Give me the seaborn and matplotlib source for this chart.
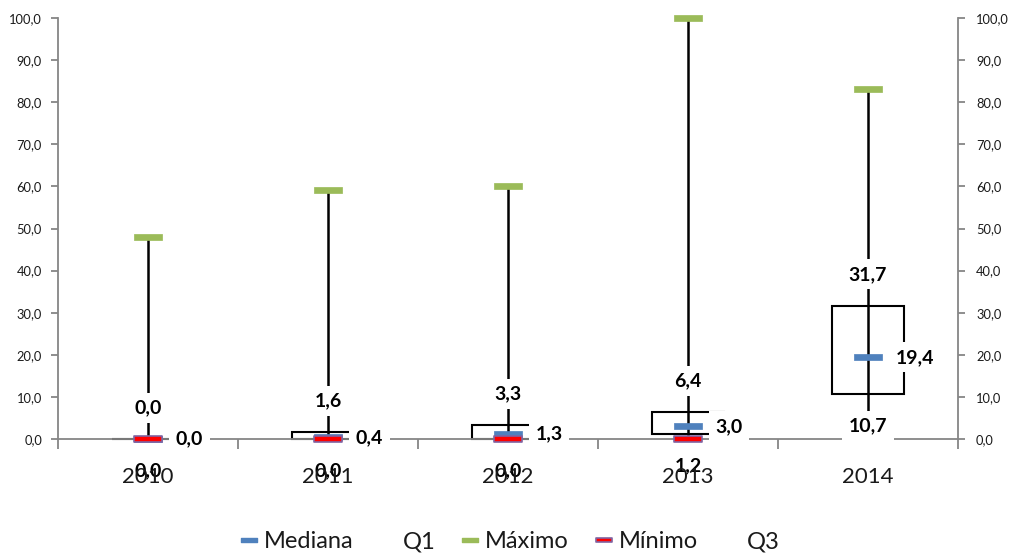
import numpy as np
import pandas as pd
import matplotlib
matplotlib.use("Agg")
import matplotlib.pyplot as plt
import seaborn as sns
from matplotlib.path import Path
from matplotlib.lines import Line2D
from matplotlib.ticker import FuncFormatter, FixedLocator

# ---- data ----
years = ["2010", "2011", "2012", "2013", "2014"]
mediana = [0.0, 0.4, 1.3, 3.0, 19.4]
q1 = [0.0, 0.0, 0.0, 1.2, 10.7]
maximo = [48.0, 59.1, 60.1, 100.0, 83.1]
minimo = [0.0, 0.0, 0.0, 0.0, 5.0]
q3 = [0.0, 1.6, 3.3, 6.4, 31.7]

sns.set_theme(style="white")
plt.rcParams['font.family'] = ['Lato', 'DejaVu Sans']

df = pd.DataFrame({"year": years, "pos": np.arange(len(years)),
                   "Mediana": mediana, "Q1": q1, "Maximo": maximo,
                   "Minimo": minimo, "Q3": q3})

BLUE = '#4F81BD'
GREEN = '#9BBB59'
RED = '#FF0000'
PURPLE = '#8064A2'
GRAY = '#868686'

def fmt(v):
    return f"{v:.1f}".replace('.', ',')

fig = plt.figure(figsize=(10.11, 5.53), dpi=100)
ax = fig.add_axes([58/1011, 1 - 439/553, 900/1011, 421/553])

# boxes Q1..Q3
ax.bar(df["pos"], df["Q3"] - df["Q1"], bottom=df["Q1"], width=0.4,
       facecolor='white', edgecolor='black', linewidth=1.5, zorder=2, clip_on=False)
# high-low lines
ax.vlines(df["pos"], df["Minimo"], df["Maximo"], color='black', lw=1.8, zorder=2.1)

dash = Path([(-2, -0.5), (2, -0.5), (2, 0.5), (-2, 0.5), (-2, -0.5)],
            [Path.MOVETO, Path.LINETO, Path.LINETO, Path.LINETO, Path.CLOSEPOLY])

sns.scatterplot(data=df, x="pos", y="Mediana", marker=dash, s=400, color=BLUE,
                edgecolor=BLUE, linewidth=0.5, ax=ax, zorder=2.5, clip_on=False, legend=False)
sns.scatterplot(data=df, x="pos", y="Maximo", marker=dash, s=400, color=GREEN,
                edgecolor=GREEN, linewidth=0.5, ax=ax, zorder=2.6, clip_on=False, legend=False)
sns.scatterplot(data=df, x="pos", y="Minimo", marker=dash, s=400, color=RED,
                edgecolor=PURPLE, linewidth=1.2, ax=ax, zorder=2.7, clip_on=False, legend=False)

lab_kw = dict(textcoords='offset points', va='center', fontsize=14, fontweight='bold',
              color='black', zorder=3, annotation_clip=False,
              bbox=dict(boxstyle='square,pad=0.33', fc='white', ec='none'))
for i in range(len(years)):
    ax.annotate(fmt(q3[i]), (i, q3[i]), xytext=(0, 22.5), ha='center', **lab_kw)
    ax.annotate(fmt(q1[i]), (i, q1[i]), xytext=(0, -23), ha='center', **lab_kw)
    ax.annotate(fmt(mediana[i]), (i, mediana[i]), xytext=(20, 0), ha='left', **lab_kw)

ax.set_xlim(-0.5, len(years) - 0.5)
ax.set_ylim(0, 100)
ax.set_xlabel("")
ax.set_ylabel("")

for s in ['top', 'right']:
    ax.spines[s].set_visible(False)
for s in ['left', 'bottom']:
    ax.spines[s].set_color(GRAY)
    ax.spines[s].set_linewidth(1.3)

yt = list(range(0, 101, 10))
ax.yaxis.set_major_locator(FixedLocator(yt))
ax.yaxis.set_major_formatter(FuncFormatter(lambda v, p: fmt(v)))
ax.tick_params(axis='y', which='major', direction='out', length=5, width=1.3,
               color=GRAY, labelsize=9.3, labelcolor='#1a1a1a', pad=6.5, left=True)

ax.set_xticks(range(len(years)))
ax.set_xticklabels(years)
ax.set_xticks(np.arange(-0.5, len(years), 1.0), minor=True)
ax.tick_params(axis='x', which='major', length=0, labelsize=16, labelcolor='#1a1a1a', pad=20)
ax.tick_params(axis='x', which='minor', direction='out', length=7, width=1.3, color=GRAY,
               bottom=True)
ax.xaxis.set_zorder(4)

ax2 = ax.twinx()
ax2.set_ylim(0, 100)
ax2.yaxis.set_major_locator(FixedLocator(yt))
ax2.yaxis.set_major_formatter(FuncFormatter(lambda v, p: fmt(v)))
for s in ['top', 'left', 'bottom']:
    ax2.spines[s].set_visible(False)
ax2.spines['right'].set_color(GRAY)
ax2.spines['right'].set_linewidth(1.3)
ax2.tick_params(axis='y', direction='out', length=5, width=1.3, color=GRAY,
                labelsize=9.3, labelcolor='#1a1a1a', pad=8, right=True)
ax2.grid(False)
ax.grid(False)

handles = [
    Line2D([], [], marker=dash, markersize=12, color=BLUE, markeredgecolor=BLUE, linestyle='none'),
    Line2D([], [], linestyle='none'),
    Line2D([], [], marker=dash, markersize=12, color=GREEN, markeredgecolor=GREEN, linestyle='none'),
    Line2D([], [], marker=dash, markersize=12, color=RED, markeredgecolor=PURPLE,
           markeredgewidth=1.2, linestyle='none'),
    Line2D([], [], linestyle='none'),
]
labels = ["Mediana", "Q1", "Máximo", "Mínimo", "Q3"]
fig.legend(handles, labels, loc='center', bbox_to_anchor=(0.5045, 1 - 542/553), ncol=5,
           frameon=False, fontsize=17, handlelength=0.75, handletextpad=0.25,
           columnspacing=1.1, labelcolor='#1a1a1a', borderpad=0.1)

fig.savefig("out.png", dpi=100)
